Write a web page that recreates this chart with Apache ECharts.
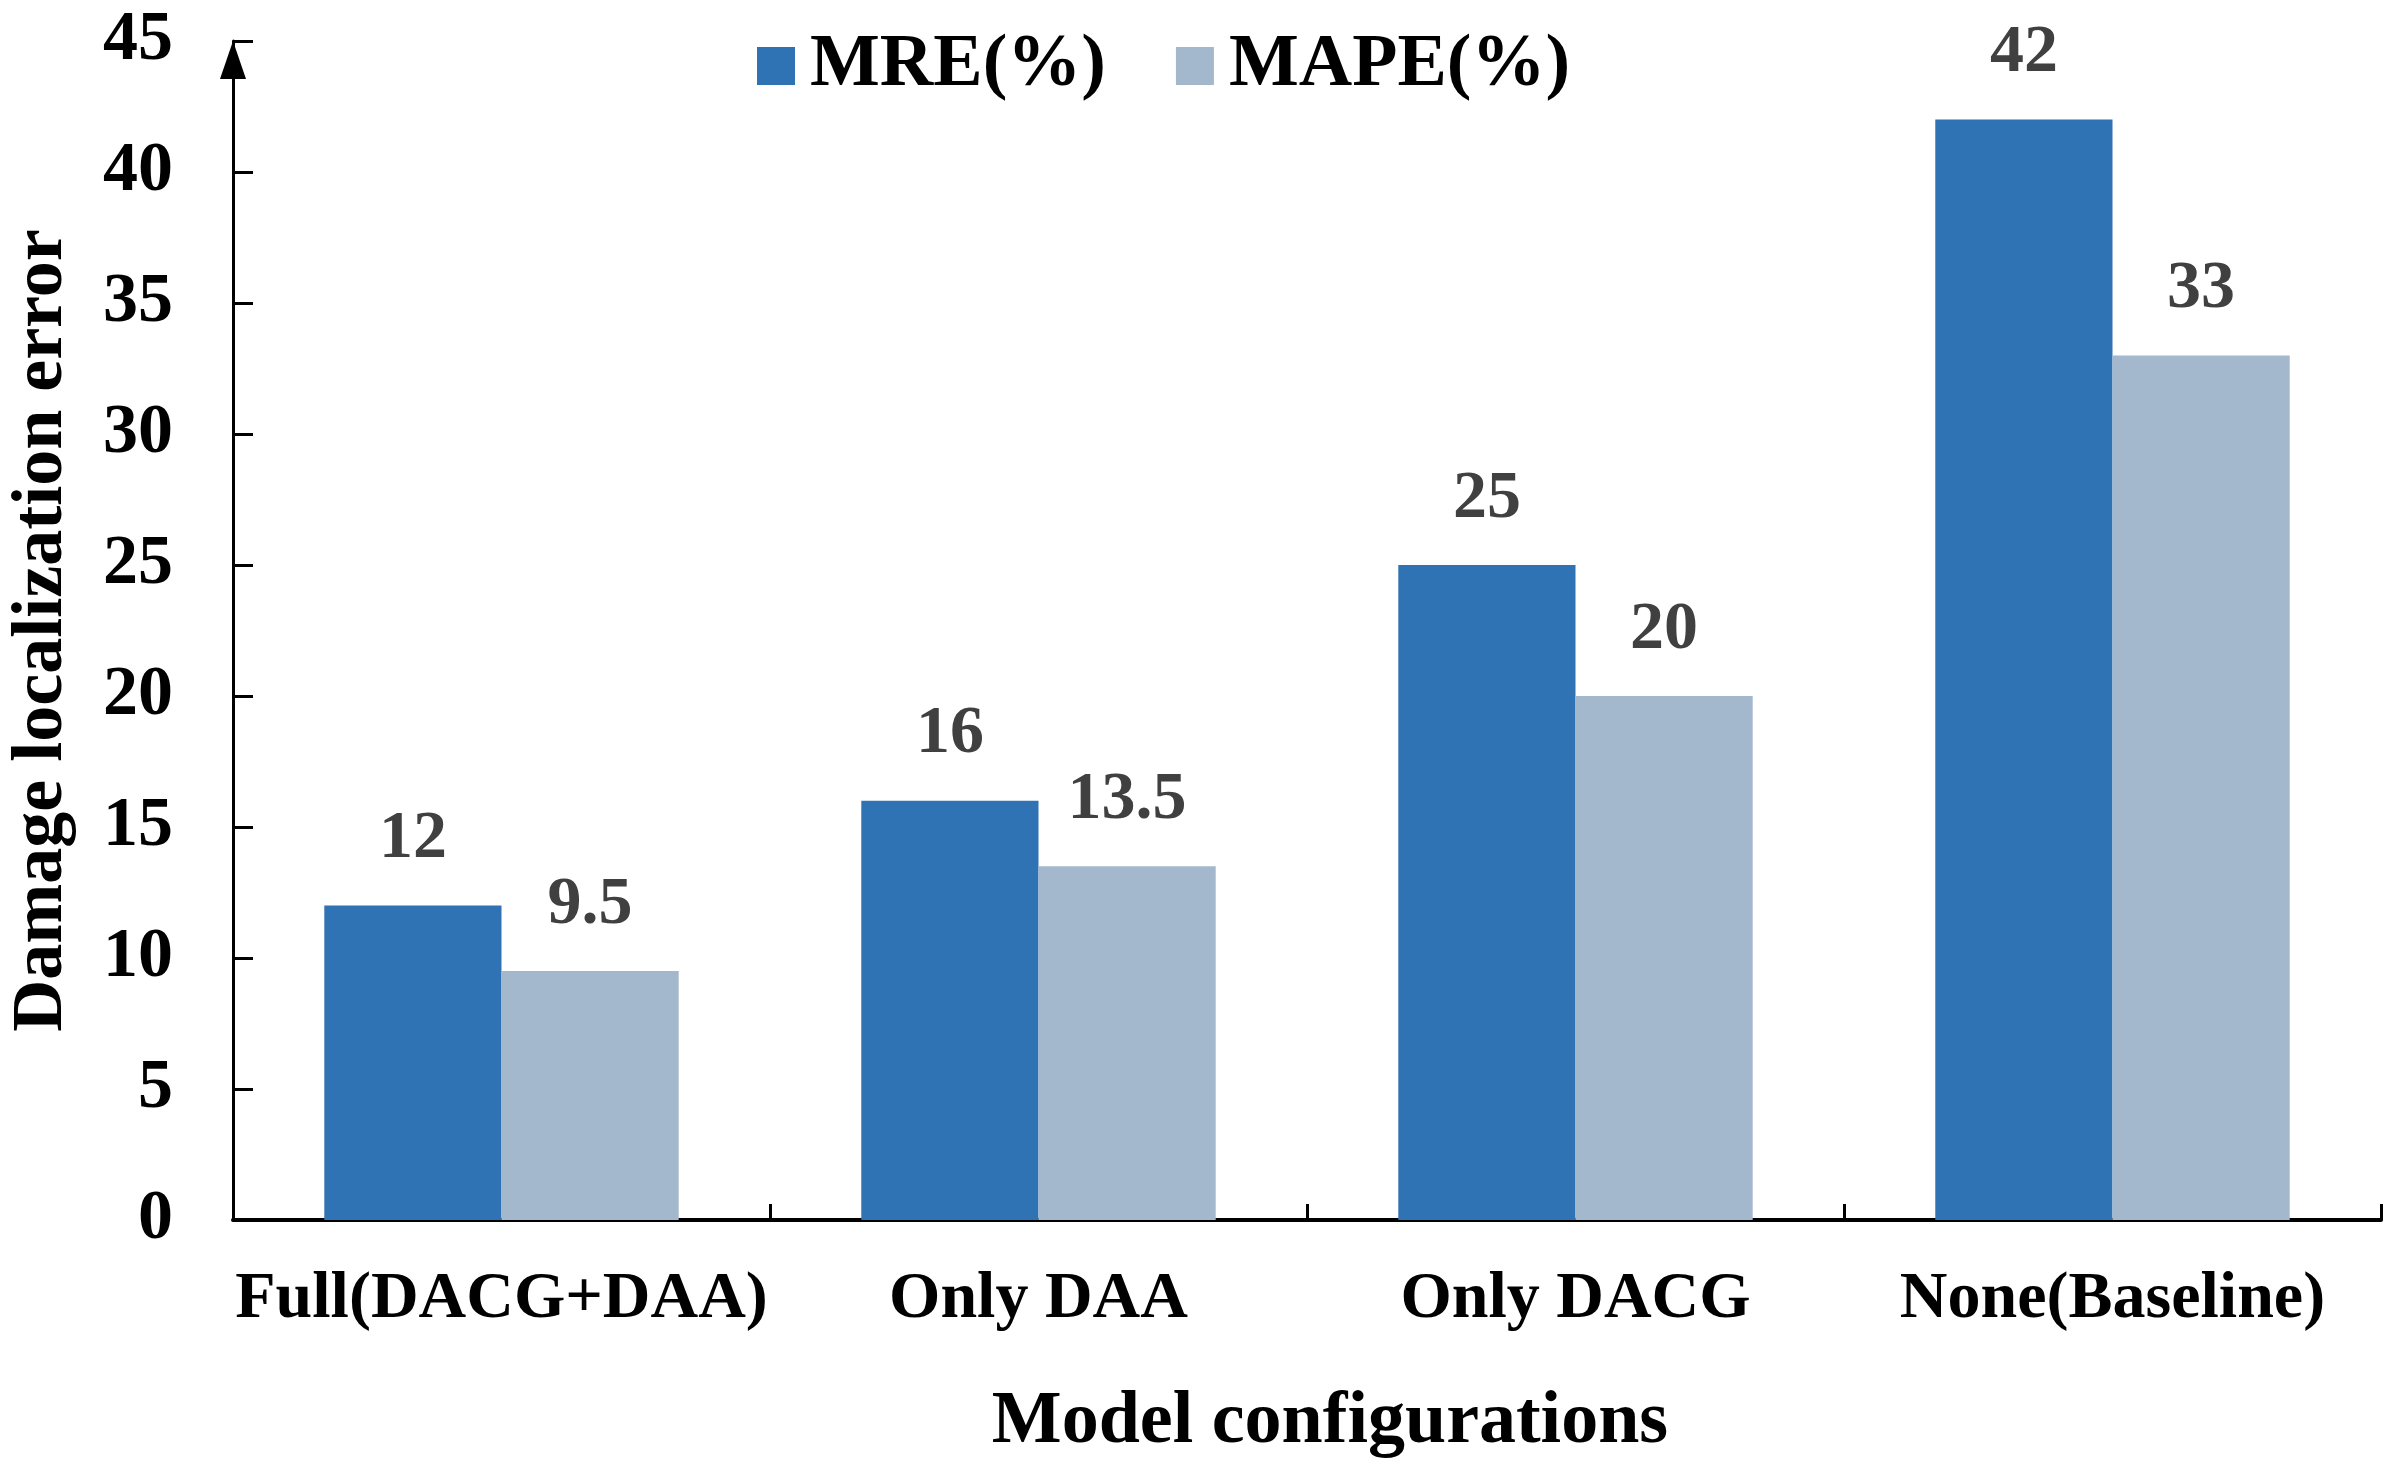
<!DOCTYPE html>
<html>
<head>
<meta charset="utf-8">
<script src="https://cdn.jsdelivr.net/npm/echarts@6/dist/echarts.min.js"></script>
<style>
html,body{margin:0;padding:0;background:#fff;}
#chart{width:2400px;height:1466px;}
</style>
</head>
<body>
<div id="chart"></div>
<script>
const categories = ['Full(DACG+DAA)', 'Only DAA', 'Only DACG', 'None(Baseline)'];
const mreValues = [12, 16, 25, 42];
const mapeValues = [9.5, 13.5, 20, 33];
const seriesNames = ['MRE(%)', 'MAPE(%)'];
const yTicks = {min: 0, max: 45, interval: 5};

const FONT = '"Liberation Serif", "Times New Roman", serif';
const chart = echarts.init(document.getElementById('chart'));
const labelStyle = {
  show: true, position: 'top', distance: 32,
  color: '#404040', fontFamily: FONT, fontWeight: 'bold', fontSize: 68
};
chart.setOption({
  backgroundColor: '#ffffff',
  animation: false,
  legend: {
    data: seriesNames,
    top: 24,
    left: 752,
    itemWidth: 38,
    itemHeight: 38,
    itemGap: 70,
    icon: 'rect',
    textStyle: {fontFamily: FONT, fontWeight: 'bold', fontSize: 74, color: '#000', padding: [0,0,0,10]}
  },
  grid: {left: 233, right: 19, top: 41, bottom: 246, containLabel: false, outerBoundsMode: 'none'},
  xAxis: {
    type: 'category',
    data: categories,
    name: 'Model configurations',
    nameLocation: 'middle',
    nameGap: 166,
    nameTextStyle: {fontFamily: FONT, fontWeight: 'bold', fontSize: 74, color: '#000', padding: [0,0,0,46]},
    axisLine: {lineStyle: {color: '#000', width: 4}},
    axisTick: {show: true, inside: true, length: 16, lineStyle: {color: '#000', width: 3}},
    axisLabel: {interval: 0, fontFamily: FONT, fontWeight: 'bold', fontSize: 66, color: '#000', margin: 47},
    splitLine: {show: false}
  },
  yAxis: {
    type: 'value',
    min: yTicks.min, max: yTicks.max, interval: yTicks.interval,
    name: 'Damage localization error',
    nameLocation: 'middle',
    nameGap: 155,
    nameTextStyle: {fontFamily: FONT, fontWeight: 'bold', fontSize: 72, color: '#000'},
    axisLine: {show: true, symbol: ['none', 'triangle'], symbolSize: [26, 38], symbolOffset: [0, -19], lineStyle: {color: '#000', width: 3}},
    axisTick: {show: true, inside: true, length: 20, lineStyle: {color: '#000', width: 3}},
    axisLabel: {fontFamily: FONT, fontWeight: 'bold', fontSize: 70, color: '#000', margin: 60},
    splitLine: {show: false}
  },
  series: [
    {
      name: seriesNames[0], type: 'bar', data: mreValues,
      barGap: '0%', barCategoryGap: '34%',
      itemStyle: {color: '#3073B4'},
      label: labelStyle
    },
    {
      name: seriesNames[1], type: 'bar', data: mapeValues,
      barGap: '0%', barCategoryGap: '34%',
      itemStyle: {color: '#A3B8CD'},
      label: labelStyle
    }
  ]
});
</script>
</body>
</html>
